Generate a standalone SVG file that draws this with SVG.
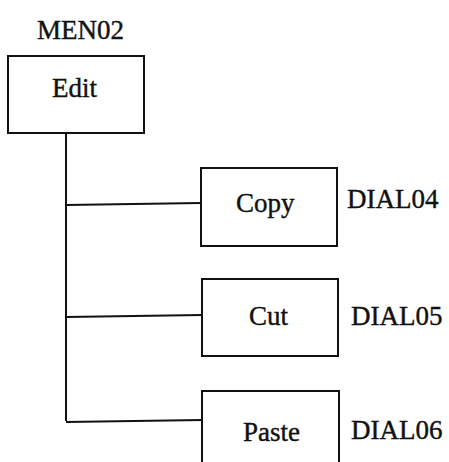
<svg xmlns="http://www.w3.org/2000/svg" width="449" height="462" viewBox="0 0 449 462">
<style>
.box{fill:none;stroke:#111;stroke-width:2}
.ln{fill:none;stroke:#111;stroke-width:2}
text{font-family:"Liberation Serif","Times New Roman",serif;font-size:27px;fill:#111;stroke:#111;stroke-width:0.4}
</style>
<rect width="449" height="462" fill="#fff"/>
<g id="connectors">
<path class="ln" d="M66 133 V421"/>
<path class="ln" d="M66 205 L201 203"/>
<path class="ln" d="M66 317 L202 315"/>
<path class="ln" d="M66 422 L202 420"/>
</g>
<g id="edit">
<text x="37" y="39">MEN02</text>
<rect class="box" x="8" y="56" width="136" height="77"/>
<text x="52" y="97">Edit</text>
</g>
<g id="copy">
<rect class="box" x="201" y="168" width="136" height="78"/>
<text x="236" y="212">Copy</text>
<text x="347" y="208">DIAL04</text>
</g>
<g id="cut">
<rect class="box" x="202" y="279" width="136" height="77"/>
<text x="249" y="325">Cut</text>
<text x="351" y="325">DIAL05</text>
</g>
<g id="paste">
<path class="box" d="M202 470 V391 H339 V470"/>
<text x="243" y="441">Paste</text>
<text x="351" y="439">DIAL06</text>
</g>
</svg>
